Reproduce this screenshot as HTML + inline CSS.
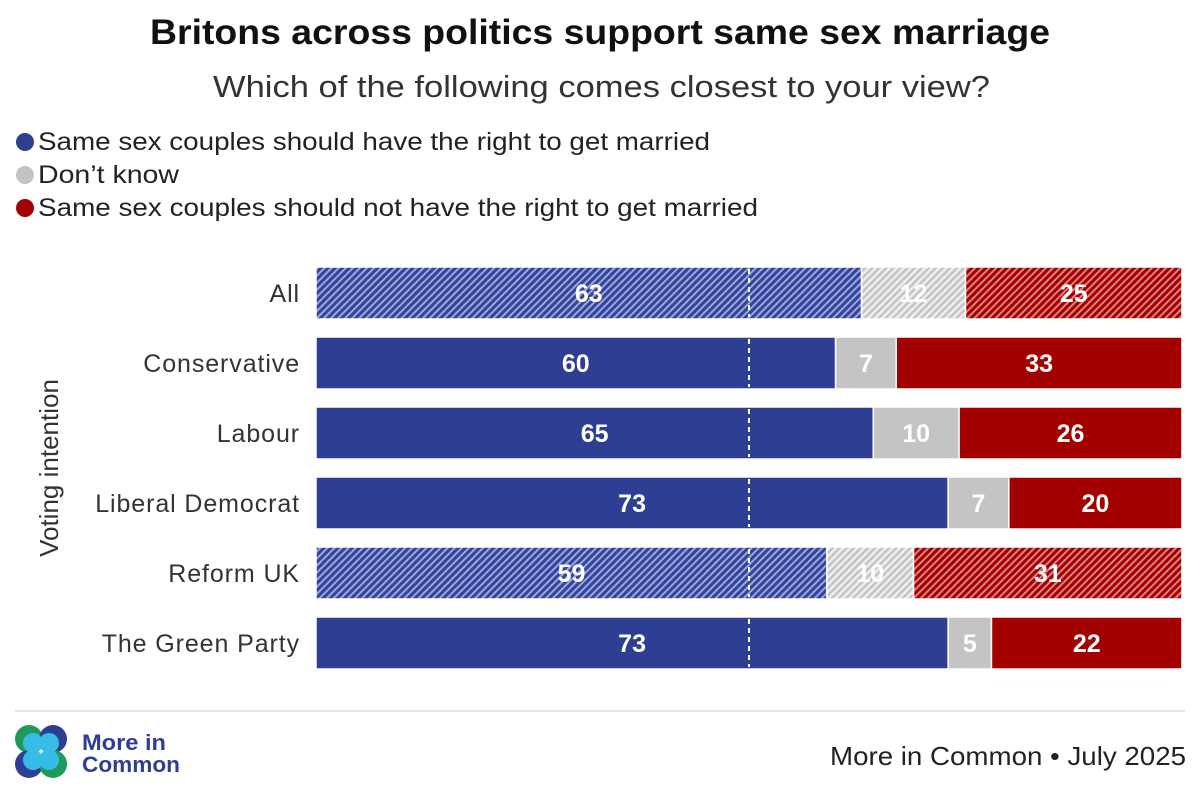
<!DOCTYPE html>
<html><head><meta charset="utf-8"><style>
body{margin:0;background:#fff;font-family:"Liberation Sans",sans-serif;}
svg text{font-family:"Liberation Sans",sans-serif;}
</style></head><body>
<svg width="1200" height="800" viewBox="0 0 1200 800">
<defs>
<pattern id="hb" width="5" height="5" patternUnits="userSpaceOnUse" patternTransform="rotate(45)"><rect width="5" height="5" fill="#9aa6dc"/><rect width="3" height="5" fill="#33449a"/></pattern>
<pattern id="hg" width="5" height="5" patternUnits="userSpaceOnUse" patternTransform="rotate(45)"><rect width="5" height="5" fill="#eeeeee"/><rect width="2.5" height="5" fill="#c4c4c4"/></pattern>
<pattern id="hr" width="5" height="5" patternUnits="userSpaceOnUse" patternTransform="rotate(45)"><rect width="5" height="5" fill="#e08080"/><rect width="3" height="5" fill="#a30000"/></pattern>
</defs>
<text x="150" y="44" textLength="900" lengthAdjust="spacingAndGlyphs" font-size="35" font-weight="bold" fill="#111">Britons across politics support same sex marriage</text>
<text x="213" y="97" textLength="777" lengthAdjust="spacingAndGlyphs" font-size="31" fill="#333">Which of the following comes closest to your view?</text>
<g>
<circle cx="25" cy="142" r="9" fill="#2e3f93"/>
<text x="38" y="150" textLength="672" lengthAdjust="spacingAndGlyphs" font-size="25" fill="#222">Same sex couples should have the right to get married</text>
<circle cx="25" cy="175" r="9" fill="#c4c4c4"/>
<text x="38" y="183" textLength="141" lengthAdjust="spacingAndGlyphs" font-size="25" fill="#222">Don’t know</text>
<circle cx="25" cy="208" r="9" fill="#a30000"/>
<text x="38" y="216" textLength="720" lengthAdjust="spacingAndGlyphs" font-size="25" fill="#222">Same sex couples should not have the right to get married</text>
</g>
<text transform="translate(58,468) rotate(-90)" text-anchor="middle" font-size="26" fill="#333">Voting intention</text>
<g id="bars"></g>
<line x1="15" y1="711" x2="1185" y2="711" stroke="#ddd" stroke-width="1.5"/>
<g>
<circle cx="29" cy="739" r="14" fill="#1f9a5a"/><circle cx="53" cy="739" r="14" fill="#2e3f93"/>
<circle cx="29" cy="764" r="14" fill="#2e3f93"/><circle cx="53" cy="764" r="14" fill="#1f9a5a"/>
<circle cx="33" cy="743" r="10" fill="#35bde8"/><circle cx="49" cy="743" r="10" fill="#35bde8"/>
<circle cx="33" cy="760" r="10" fill="#35bde8"/><circle cx="49" cy="760" r="10" fill="#35bde8"/>
<text x="82" y="750" textLength="84" lengthAdjust="spacingAndGlyphs" font-size="22" font-weight="bold" fill="#2e3f93">More in</text>
<text x="82" y="772" textLength="98" lengthAdjust="spacingAndGlyphs" font-size="22" font-weight="bold" fill="#2e3f93">Common</text>
</g>
<text x="830" y="765" textLength="356" lengthAdjust="spacingAndGlyphs" font-size="26" fill="#222">More in Common • July 2025</text>
</svg>
<script>
const categories=["All","Conservative","Labour","Liberal Democrat","Reform UK","The Green Party"];
const support=[63,60,65,73,59,73];
const dontKnow=[12,7,10,7,10,5];
const oppose=[25,33,26,20,31,22];
const hatched=[true,false,false,false,true,false];
const NS="http://www.w3.org/2000/svg";
const x0=316,x1=1182,y0=293,rowStep=70,bh=52;
const xs=v=>x0+(x1-x0)*v/100;
const g=document.getElementById('bars');
function mk(t,a){const e=document.createElementNS(NS,t);for(const k in a)e.setAttribute(k,a[k]);g.appendChild(e);return e;}
categories.forEach((c,i)=>{
  const cy=y0+i*rowStep;
  const lab=mk('text',{x:300,y:cy+9,'text-anchor':'end','font-size':25,'letter-spacing':'0.9',fill:'#333'});
  lab.textContent=c;
  
  
  const tot=support[i]+dontKnow[i]+oppose[i];
  const segs=[[support[i],'#2e3f93','url(#hb)','#fff','support'],[dontKnow[i],'#c4c4c4','url(#hg)','#fff','dont-know'],[oppose[i],'#a30000','url(#hr)','#fff','oppose']];
  let acc=0;
  segs.forEach(s=>{
    const xa=xs(acc*100/tot),xb=xs((acc+s[0])*100/tot);
    const r=mk('rect',{x:xa,y:cy-bh/2,width:xb-xa,height:bh,fill:hatched[i]?s[2]:s[1],stroke:'#fff','stroke-width':1.5});
    
    
    acc+=s[0];
  });
  const dl=mk('line',{x1:xs(50),x2:xs(50),y1:cy-bh/2+2,y2:cy+bh/2-2,stroke:'#fff','stroke-width':2,'stroke-dasharray':'5,4'});
  
  
  acc=0;
  segs.forEach(s=>{
    const t=mk('text',{x:(xs(acc*100/tot)+xs((acc+s[0])*100/tot))/2,y:cy+9,'text-anchor':'middle','font-size':25,'font-weight':'bold',fill:s[3]});
    t.textContent=s[0];
    
    
    acc+=s[0];
  });
});
</script>
</body></html>
